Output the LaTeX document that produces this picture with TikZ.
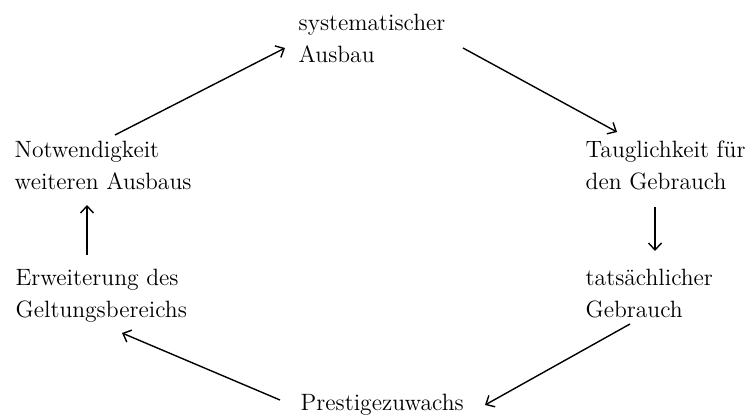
\documentclass[tikz,border=0pt]{standalone}
\usetikzlibrary{arrows.meta}

\begin{document}
\begin{tikzpicture}[
                x=0.5pt, y=-0.5pt,
                every node/.style={inner sep=0pt, anchor=base west, align=left,
                        font=\fontsize{11.8}{16}\selectfont},
                every path/.style={line width=0.7pt},
                >={Straight Barb[length=3.5pt,width=6.5pt]}
            ]

            \useasboundingbox (0,0) rectangle (753,417);

            \node (sys)   at (298,62)  {systematischer\\Ausbau};
            \node (taug)  at (585,189) {Tauglichkeit für\\den Gebrauch};
            \node (tats)  at (585,317) {tatsächlicher\\Gebrauch};
            \node (prest) at (300,410) {Prestigezuwachs};
            \node (erw)   at (15,317)  {Erweiterung des\\Geltungsbereichs};
            \node (notw)  at (14,189)  {Notwendigkeit\\weiteren Ausbaus};

            \draw[->] ([shift={(101,-54)}]notw.base west) -- ([shift={(-13,-14)}]sys.base west);
            \draw[->] ([shift={(165,-14)}]sys.base west) -- ([shift={(32,-57)}]taug.base west);
            \draw[->] ([shift={(70,18)}]taug.base west) -- ([shift={(70,-66)}]tats.base west);
            \draw[->] ([shift={(45,7)}]tats.base west) -- ([shift={(185,-5)}]prest.base west);
            \draw[->] ([shift={(-20,-10)}]prest.base west) -- ([shift={(107,16)}]erw.base west);
            \draw[->] ([shift={(72,-62)}]erw.base west) -- ([shift={(73,16)}]notw.base west);

        \end{tikzpicture}
\end{document}
